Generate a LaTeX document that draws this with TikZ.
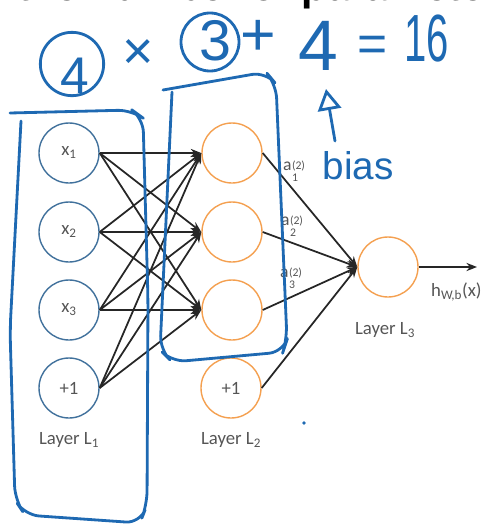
\documentclass[tikz,border=0pt]{standalone}
\usepackage{fontspec}
\usepackage{graphicx}
\setmainfont{Carlito}
\newfontfamily\handfont{Liberation Sans}
\newfontfamily\headfont{Liberation Sans}
\usetikzlibrary{arrows.meta}
\definecolor{inblue}{RGB}{65,113,156}
\definecolor{hidorange}{RGB}{244,160,80}
\definecolor{penblue}{RGB}{30,105,178}
\definecolor{labgray}{RGB}{85,85,85}
\newcommand{\actv}[1]{a\kern0.3pt\raisebox{-0.3em}{\fontsize{10}{11}\selectfont\begin{tabular}{@{}l@{}}(2)\\[-1pt]#1\end{tabular}}}

\begin{document}
\begin{tikzpicture}[
  x=0.03cm, y=-0.03cm,
  inode/.style={circle, draw=inblue, line width=1.2pt, minimum size=1.8cm, inner sep=0pt, text=labgray, font=\fontsize{16}{18}\selectfont},
  hnode/.style={inode, draw=hidorange},
  wire/.style={line width=1.5pt, draw=black!85, -{Stealth[length=9pt,width=7pt]}},
  lab/.style={text=labgray, font=\fontsize{16}{18}\selectfont},
  alab/.style={text=labgray, font=\fontsize{15}{17}\selectfont, anchor=west, inner sep=0pt},
  pen/.style={draw=penblue, line width=2.4pt, line cap=round, line join=round},
  hand/.style={text=penblue, inner sep=0pt, font=\handfont\fontsize{#1}{#1}\selectfont}
]
  \useasboundingbox (0,0) rectangle (484,527);

  % heading, cut off at the top edge
  \node[anchor=base west, inner sep=0pt, font=\headfont\bfseries\fontsize{35}{40}\selectfont] (title) at (17,0.5) {the number of parameters};

  % layer 1 (inputs and bias)
  \node[inode] (x1) at (69,153) {x\textsubscript{1}};
  \node[inode] (x2) at (69,232) {x\textsubscript{2}};
  \node[inode] (x3) at (69,310) {x\textsubscript{3}};
  \node[inode] (b1) at (69,388) {+1};

  % layer 2 (hidden units and bias)
  \node[hnode] (h1) at (232,153) {};
  \node[hnode] (h2) at (232,232) {};
  \node[hnode] (h3) at (232,310) {};
  \node[hnode] (b2) at (231,388) {+1};

  % layer 3
  \node[hnode] (out) at (388,267) {};
  \coordinate (hend) at (477,267);

  % layer names
  \node[lab] (l1) at (69,440) {Layer L\textsubscript{1}};
  \node[lab] (l2) at (231,440) {Layer L\textsubscript{2}};
  \node[lab] (l3) at (385,330) {Layer L\textsubscript{3}};
  \node[lab, anchor=west, inner sep=0pt] (hout) at (431,292) {h\textsubscript{W,b}(x)};

  % weights
  \foreach \s in {x1,x2,x3,b1}
    \foreach \t in {h1,h2,h3}
      \draw[wire] (\s.east) -- (\t.west);
  \foreach \s in {h1,h2,h3,b2}
    \draw[wire] (\s.east) -- (out.west);
  \draw[wire] (out) -- (hend);

  % activations
  \node[alab] (a1) at (283,173) {\actv{1}};
  \node[alab] (a2) at (281,228) {\actv{2}};
  \node[alab] (a3) at (280,280) {\actv{3}};

  % hand-written count
  \node[pen, circle, minimum size=1.9cm, inner sep=0pt] (ring4) at (72,64) {};
  \node[hand=44] (n4) at (75,76) {4};
  \node[hand=46] (times) at (138,55) {×};
  \node[pen, circle, minimum size=1.74cm, inner sep=0pt] (ring3) at (210,42) {};
  \node[hand=49] (n3) at (215,41) {3};
  \node[hand=52] (plus) at (258,38) {+};
  \node[hand=61] (four) at (318,46) {4};
  \node[hand=44] (equal) at (373,49) {=};
  \node[hand=57] (sum) at (427,39) {\scalebox{0.6}[1]{16}};
  \node[hand=33] (bias) at (358,166) {bias};
  \coordinate (stemfoot) at (335,141);
  \coordinate (stemtip) at (326,89);
  \draw[pen, -{Triangle[open, length=18pt, width=20pt]}] (stemfoot) -- (stemtip);

  % hand-drawn boxes
  \draw[pen, rounded corners=12] (10,113) -- (132,110) -- (143,118) -- (148,300) -- (147,505)
    -- (140,523) -- (25,515) -- (15,500) -- (10,330) -- (21,121);
  \draw[pen, rounded corners=12] (163,90) -- (266,72) -- (276,84) -- (287,340) -- (283,352)
    -- (172,362) -- (160,350) -- (172,92);
  \fill[penblue] (304,423) circle (1.8);
\end{tikzpicture}
\end{document}
